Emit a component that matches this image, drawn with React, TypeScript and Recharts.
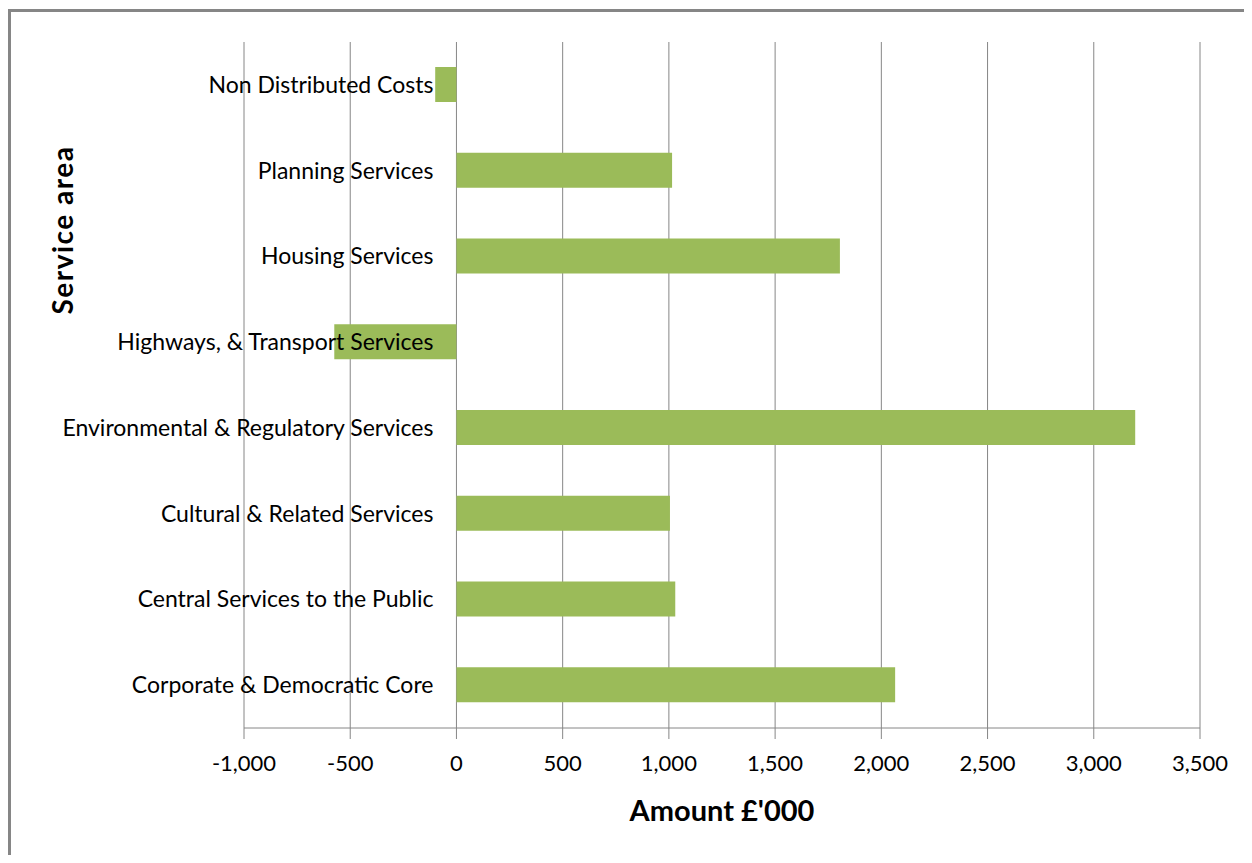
import React from "react";
import { BarChart, Bar, XAxis, YAxis, CartesianGrid } from "recharts";

const categories = [
    "Non Distributed Costs",
    "Planning Services",
    "Housing Services",
    "Highways, & Transport Services",
    "Environmental & Regulatory Services",
    "Cultural & Related Services",
    "Central Services to the Public",
    "Corporate & Democratic Core",
];
const amounts = [-100, 1015, 1805, -575, 3195, 1005, 1030, 2065];
const xTicks = [-1000, -500, 0, 500, 1000, 1500, 2000, 2500, 3000, 3500];

const data = categories.map((name, i) => ({ name, amount: amounts[i] }));

const CHART_W = 1233;
const CHART_H = 843;
const MARGIN = { top: 30, right: 44, left: 183, bottom: 67 };
const Y_AXIS_W = 50;
const X_MIN = xTicks[0];
const X_MAX = xTicks[xTicks.length - 1];
const PLOT_LEFT = MARGIN.left + Y_AXIS_W;
const PLOT_W = CHART_W - PLOT_LEFT - MARGIN.right;
// category labels sit against the zero line, like the Excel original
const ZERO_X = PLOT_LEFT + ((0 - X_MIN) / (X_MAX - X_MIN)) * PLOT_W;

const FONT = "Lato, 'Open Sans', sans-serif";
const GREY = "#868686";

// eslint-disable-next-line @typescript-eslint/no-explicit-any
const CategoryTick = ({ y, payload }: any) => (
    <text x={ZERO_X - 23} y={y} dy="0.35em" textAnchor="end" fill="#000" fontSize={23} fontFamily={FONT}>
        {payload.value}
    </text>
);

export default function App() {
    return (
        <div
            style={{
                position: "relative",
                marginTop: 1,
                width: CHART_W,
                height: CHART_H,
                borderTop: `3px solid ${GREY}`,
                borderLeft: `3px solid ${GREY}`,
                background: "#fff",
            }}
        >
            <BarChart width={CHART_W} height={CHART_H} data={data} layout="vertical" margin={MARGIN}>
                <CartesianGrid horizontal={false} stroke={GREY} />
                <XAxis
                    type="number"
                    domain={[X_MIN, X_MAX]}
                    ticks={xTicks}
                    interval={0}
                    tickFormatter={(v: number) => v.toLocaleString("en-US")}
                    tick={{ fill: "#000", fontSize: 22, fontFamily: FONT }}
                    axisLine={{ stroke: GREY }}
                    tickLine={{ stroke: GREY }}
                    tickSize={11}
                    tickMargin={16}
                    height={60}
                />
                <Bar dataKey="amount" fill="#9BBB59" barSize={35} isAnimationActive={false} />
                <YAxis
                    type="category"
                    dataKey="name"
                    width={Y_AXIS_W}
                    axisLine={false}
                    tickLine={false}
                    interval={0}
                    tick={<CategoryTick />}
                />
            </BarChart>
            <div
                style={{
                    position: "absolute",
                    left: PLOT_LEFT + PLOT_W / 2,
                    top: 797,
                    transform: "translate(-50%, -50%)",
                    fontFamily: FONT,
                    fontWeight: 700,
                    fontSize: 29,
                    whiteSpace: "nowrap",
                }}
            >
                Amount £'000
            </div>
            <div
                style={{
                    position: "absolute",
                    left: 51,
                    top: 218,
                    transform: "translate(-50%, -50%) rotate(-90deg)",
                    fontFamily: FONT,
                    fontWeight: 700,
                    fontSize: 28,
                    letterSpacing: 1.5,
                    whiteSpace: "nowrap",
                }}
            >
                Service area
            </div>
        </div>
    );
}
